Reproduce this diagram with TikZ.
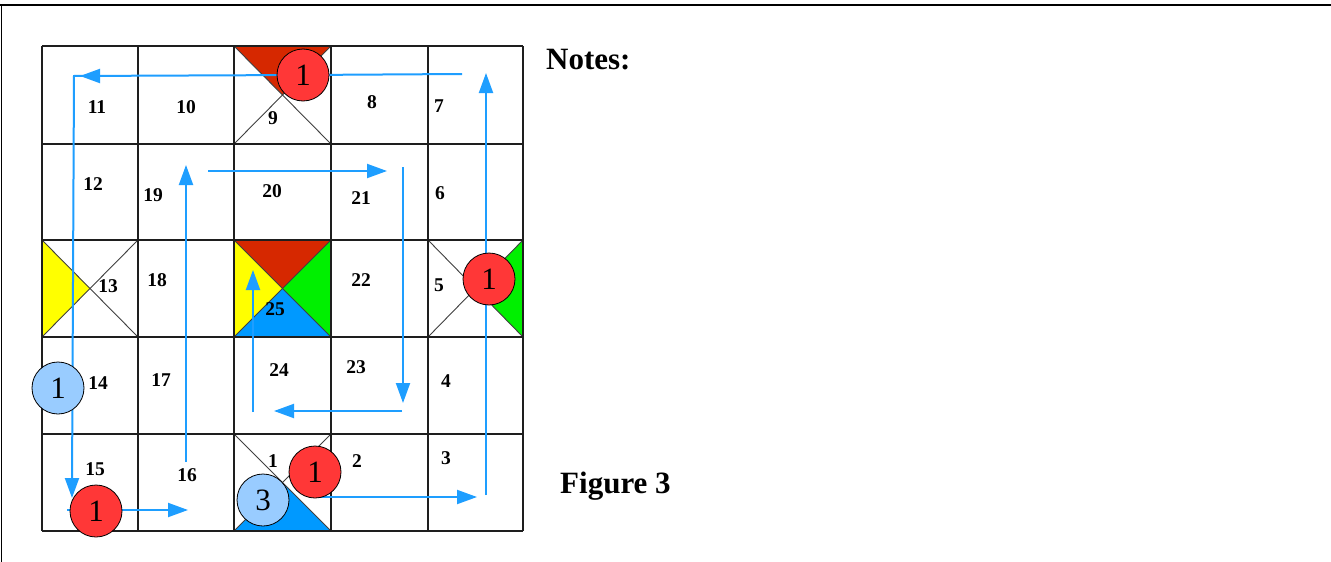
\documentclass[tikz,border=0pt]{standalone}
\usepackage{fontspec}
\setmainfont{Liberation Serif}
\usetikzlibrary{arrows.meta,calc}
\definecolor{tred}{RGB}{214,40,0}
\definecolor{tgreen}{RGB}{0,240,0}
\definecolor{tyellow}{RGB}{255,255,0}
\definecolor{tblue}{RGB}{0,153,255}
\definecolor{cred}{RGB}{255,55,55}
\definecolor{clblue}{RGB}{153,204,255}
\definecolor{flowc}{RGB}{30,158,255}
\definecolor{gridc}{RGB}{30,30,30}
\tikzset{
  gridline/.style={draw=gridc,line width=2pt},
  diag/.style={draw=gridc!85,line width=0.9pt},
  num/.style={font=\fontsize{19.5}{19.5}\selectfont\bfseries,inner sep=0pt},
  flow/.style={draw=flowc,line width=2pt,-{Triangle[length=20pt,width=14pt]}},
  flowline/.style={draw=flowc,line width=2pt},
  badge/.style={circle,draw=black,line width=0.8pt,minimum size=52pt,inner sep=0pt,font=\fontsize{31}{31}\selectfont},
  redbadge/.style={badge,fill=cred},
  bluebadge/.style={badge,fill=clblue},
  title/.style={font=\fontsize{31}{31}\selectfont\bfseries,inner sep=0pt,anchor=west}
}
\begin{document}
\begin{tikzpicture}[x=1pt,y=-1pt]
\useasboundingbox (0,0) rectangle (1331,562);
\fill[white] (0,0) rectangle (1331,562);
\draw[line width=1.6pt] (0,5) -- (1331,5);
\draw[line width=1.6pt] (1.5,5) -- (1.5,562);

% grid corner coordinates g<col><row>
\foreach \x [count=\i from 0] in {42,138,234,331,428,523}{
  \foreach \y [count=\j from 0] in {46,144,240,337,434,531}{
    \coordinate (g\i\j) at (\x,\y);
  }
}
% centres of the special cells
\coordinate (m9)  at ($(g20)!0.5!(g31)$);
\coordinate (m13) at ($(g02)!0.5!(g13)$);
\coordinate (m25) at ($(g22)!0.5!(g33)$);
\coordinate (m5)  at ($(g42)!0.5!(g53)$);
\coordinate (m1)  at ($(g24)!0.5!(g35)$);

% coloured triangles
\fill[tred] (g20) -- (g30) -- (m9) -- cycle;
\fill[tyellow] (g02) -- (g03) -- (m13) -- cycle;
\fill[tred] (g22) -- (g32) -- (m25) -- cycle;
\fill[tgreen] (g32) -- (g33) -- (m25) -- cycle;
\fill[tblue] (g23) -- (g33) -- (m25) -- cycle;
\fill[tyellow] (g22) -- (g23) -- (m25) -- cycle;
\fill[tgreen] (g52) -- (g53) -- (m5) -- cycle;
\fill[tblue] (g25) -- (g35) -- (m1) -- cycle;

% diagonals
\foreach \a/\b/\c/\d in {20/31/30/21, 02/13/12/03, 22/33/32/23, 42/53/52/43, 24/35/34/25}{
  \draw[diag] (g\a) -- (g\b);
  \draw[diag] (g\c) -- (g\d);
}

% grid
\foreach \i in {0,...,5}{ \draw[gridline] (g\i0) -- (g\i5); }
\foreach \j in {0,...,5}{ \draw[gridline] (g0\j) -- (g5\j); }

% cell numbers
\node[num] (n11) at (97,107) {11};
\node[num] (n10) at (186,107) {10};
\node[num] (n9)  at (273,118) {9};
\node[num] (n8)  at (372,102) {8};
\node[num] (n7)  at (439,106) {7};
\node[num] (n12) at (93,184) {12};
\node[num] (n19) at (153,195) {19};
\node[num] (n20) at (272,191) {20};
\node[num] (n21) at (361,198) {21};
\node[num] (n6)  at (440,193) {6};
\node[num] (n13) at (108,286) {13};
\node[num] (n18) at (157,280) {18};
\node[num] (n25) at (275,309) {25};
\node[num] (n22) at (361,280) {22};
\node[num] (n5)  at (439,285) {5};
\node[num] (n14) at (98,383) {14};
\node[num] (n17) at (161,380) {17};
\node[num] (n24) at (279,370) {24};
\node[num] (n23) at (356,367) {23};
\node[num] (n4)  at (446,381) {4};
\node[num] (n15) at (95,469) {15};
\node[num] (n16) at (187,475) {16};
\node[num] (n1)  at (273,461) {1};
\node[num] (n2)  at (357,461) {2};
\node[num] (n3)  at (446,458) {3};

% route coordinates
\coordinate (p1) at (462,74);
\coordinate (p2) at (303,75);
\coordinate (p3) at (74,76);
\coordinate (p3a) at (100,76);
\coordinate (p3b) at (80,76);
\coordinate (p4) at (72,498);
\coordinate (q1) at (486,495);
\coordinate (q2) at (486,73);
\coordinate (r1) at (315,497);
\coordinate (r2) at (477,497);
\coordinate (s1) at (67,510);
\coordinate (s2) at (188,510);
\coordinate (t1) at (186,462);
\coordinate (t2) at (186,165);
\coordinate (u1) at (208,171);
\coordinate (u2) at (387,171);
\coordinate (v1) at (403,167);
\coordinate (v2) at (403,403);
\coordinate (w1) at (402,411);
\coordinate (w2) at (274,411);
\coordinate (z1) at (253,412);
\coordinate (z2) at (253,270);

% routes
\draw[flowline] (p1) -- (p2) -- (p3) -- ($(p4)+(0,-10)$);
\draw[flow] (p3a) -- (p3b);
\draw[flow] ($(p4)+(0,-20)$) -- (p4);
\draw[flow] (q1) -- (q2);
\draw[flow] (r1) -- (r2);
\draw[flow] (s1) -- (s2);
\draw[flow] (t1) -- (t2);
\draw[flow] (u1) -- (u2);
\draw[flow] (v1) -- (v2);
\draw[flow] (w1) -- (w2);
\draw[flow] (z1) -- (z2);

% badges
\node[redbadge] (b9) at (303,75) {1};
\node[redbadge] (b5) at (489,279) {1};
\node[bluebadge] (b14) at (58,388) {1};
\node[redbadge] (b15) at (96,511) {1};
\node[redbadge] (b1) at (315,472) {1};
\node[bluebadge] (b1b) at (263,500) {3};

% titles
\node[title] (notes) at (546,60) {Notes:};
\node[title] (fig) at (560,486) {Figure 3};
\end{tikzpicture}
\end{document}
